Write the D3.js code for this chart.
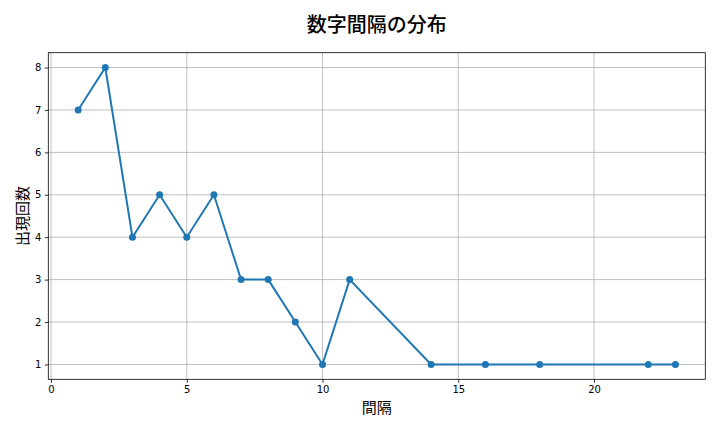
<!DOCTYPE html>
<html><head><meta charset="utf-8">
<script src="https://cdn.jsdelivr.net/npm/d3@7"></script>
<style>body{margin:0;background:#fff}</style>
</head><body>
<svg id="c" width="720" height="432"></svg>
<script>
const intervals = [1,2,3,4,5,6,7,8,9,10,11,14,16,18,22,23];
const counts = [7,8,4,5,4,5,3,3,2,1,3,1,1,1,1,1];
const xTicks = [0,5,10,15,20];
const yTicks = [1,2,3,4,5,6,7,8];
const title = "数字間隔の分布", xLabel = "間隔", yLabel = "出現回数";

const svg = d3.select("#c");
const L = 48.3, R = 705.3, T = 52.7, B = 379.3;
const x = d3.scaleLinear().domain([-0.1, 24.1]).range([L, R]);
const y = d3.scaleLinear().domain([0.65, 8.35]).range([B, T]);
const cjk = "'Noto Sans CJK JP', sans-serif";

// grid
svg.append("g").selectAll("line").data(xTicks).join("line")
  .attr("x1", d => x(d)).attr("x2", d => x(d)).attr("y1", T).attr("y2", B)
  .attr("stroke", "#b0b0b0").attr("stroke-width", 0.8);
svg.append("g").selectAll("line").data(yTicks).join("line")
  .attr("y1", d => y(d)).attr("y2", d => y(d)).attr("x1", L).attr("x2", R)
  .attr("stroke", "#b0b0b0").attr("stroke-width", 0.8);

// axes
const xAxis = svg.append("g").attr("transform", `translate(0,${B})`)
  .call(d3.axisBottom(x).tickValues(xTicks).tickSize(3.5).tickPadding(3.5));
const yAxis = svg.append("g").attr("transform", `translate(${L},0)`)
  .call(d3.axisLeft(y).tickValues(yTicks).tickSize(3.5).tickPadding(3.5));
[xAxis, yAxis].forEach(a => {
  a.select(".domain").remove();
  a.selectAll("text").attr("font-family", "'DejaVu Sans', sans-serif").attr("font-size", 10).attr("fill", "#000");
  a.selectAll("line").attr("stroke", "#000").attr("stroke-width", 0.8);
});

// frame
svg.append("rect").attr("x", L).attr("y", T).attr("width", R - L).attr("height", B - T)
  .attr("fill", "none").attr("stroke", "#000").attr("stroke-width", 0.8);

// line
const pts = intervals.map((d, i) => [d, counts[i]]);
svg.append("path").datum(pts)
  .attr("d", d3.line().x(d => x(d[0])).y(d => y(d[1])))
  .attr("fill", "none").attr("stroke", "#1f77b4").attr("stroke-width", 2);
svg.append("g").selectAll("circle").data(pts).join("circle")
  .attr("cx", d => x(d[0])).attr("cy", d => y(d[1])).attr("r", 3.5).attr("fill", "#1f77b4");

// texts
svg.append("text").attr("x", (L + R) / 2).attr("y", 32).attr("text-anchor", "middle")
  .attr("font-family", cjk).attr("font-size", 20).attr("font-weight", 500).text(title);
svg.append("text").attr("x", (L + R) / 2).attr("y", 413).attr("text-anchor", "middle")
  .attr("font-family", cjk).attr("font-size", 15).text(xLabel);
svg.append("text").attr("transform", `translate(28,${(T + B) / 2}) rotate(-90)`).attr("text-anchor", "middle")
  .attr("font-family", cjk).attr("font-size", 15).text(yLabel);
</script>
</body></html>
